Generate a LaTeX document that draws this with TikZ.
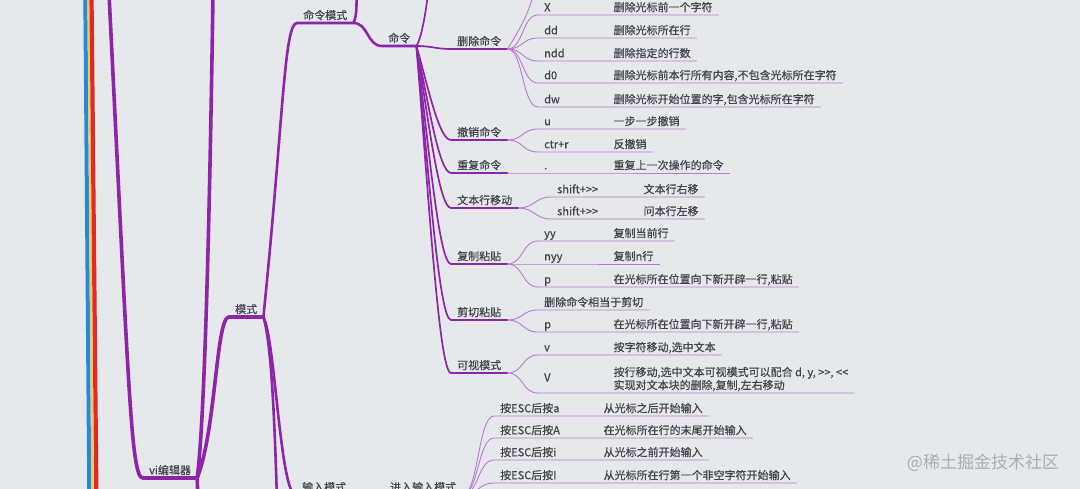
\documentclass[tikz,border=0pt]{standalone}
\usepackage{fontspec}
\newfontfamily\cnfont{Noto Sans CJK SC}[FakeBold=0.6]
\newfontfamily\markfont{Noto Sans CJK SC}
\definecolor{bg}{RGB}{230,233,236}
\definecolor{mind}{RGB}{142,36,170}
\definecolor{twigc}{RGB}{184,122,208}
\definecolor{ink}{RGB}{64,68,76}
\definecolor{bluebr}{RGB}{32,138,222}
\definecolor{yellowbr}{RGB}{244,202,86}
\definecolor{redbr}{RGB}{224,42,40}
\definecolor{markc}{RGB}{168,173,179}
\tikzset{
  topic/.style={anchor=south west, inner xsep=6pt, inner ysep=1.5pt,
    text height=8.5pt, text depth=2pt, text=ink,
    font=\cnfont\fontsize{11}{13}\selectfont},
  key/.style={topic, text width=#1, align=left},
  key/.default=57pt,
  trunk/.style={draw=mind, line width=3.6pt, line cap=round},
  limb/.style={draw=mind, line width=2.6pt, line cap=round},
  branch/.style={draw=mind, line width=1.7pt, line cap=round},
  twig/.style={draw=twigc, line width=0.9pt},
}
\begin{document}
\begin{tikzpicture}[x=1pt,y=-1pt]
  \useasboundingbox (0,0) rectangle (1080,489);
  \fill[bg] (0,0) rectangle (1080,489);
  \clip (0,0) rectangle (1080,489);
  % other main branches, seen only at the edge
  \draw[bluebr, line width=4pt] (85.3,-5) -- (89.3,495);
  \draw[yellowbr, line width=2.4pt] (88.5,-5) -- (92.6,495);
  \draw[redbr, line width=4.2pt] (91.5,-5) -- (96.4,495);

  % topics
  \node[topic] (vi) at (143,478) {vi编辑器};
  \node[topic] (mode) at (229,317) {模式};
  \node[topic] (cmdmode) at (297,23) {命令模式};
  \node[topic] (cmd) at (382,46) {命令};
  \node[topic] (del) at (451,49) {删除命令};
  \node[topic] (undo) at (451,140) {撤销命令};
  \node[topic] (rep) at (451,173) {重复命令};
  \node[topic] (mv) at (451,208) {文本行移动};
  \node[topic] (cp) at (451,264) {复制粘贴};
  \node[topic] (cut) at (451,320) {剪切粘贴};
  \node[topic] (vis) at (451,373) {可视模式};
  \node[topic] (inmode) at (296,495) {输入模式};
  \node[topic] (enter) at (384,495) {进入输入模式};

  % loose ends leaving the picture
  \coordinate (upA) at (109,-6);
  \coordinate (upB) at (213,-6);
  \coordinate (upC) at (357,-6);
  \coordinate (upD) at (428,-6);
  \coordinate (upE) at (533,-6);
  \coordinate (downA) at (198,500);
  \coordinate (downB) at (277,500);

  \draw[trunk] (upA) .. controls +(20,400) and +(-12,0) .. (vi.south west) -- (vi.south east);
  \draw[trunk] (vi.south east) .. controls +(8,-60) and +(-3,200) .. (upB);
  \draw[trunk] (vi.south east) .. controls +(19,-48) and +(-13,0) .. (mode.south west) -- (mode.south east);
  \draw[trunk] (vi.south east) -- (downA);
  \draw[limb] (mode.south east) .. controls +(20,-197) and +(-13,0) .. (cmdmode.south west) -- (cmdmode.south east);
  \draw[limb] (mode.south east) .. controls +(7,23) and +(-3,-100) .. (downB);
  \draw[limb] (mode.south east) .. controls +(12,23) and +(-16,0) .. (inmode.south west) -- (inmode.south east);
  \draw[limb] (cmdmode.south east) .. controls +(4,-8) and +(-1,10) .. (upC);
  \draw[limb] (cmdmode.south east) .. controls +(15,0) and +(-15,0) .. (cmd.south west) -- (cmd.south east);
  \draw[branch] (cmd.south east) .. controls +(6,-10) and +(-2,15) .. (upD);
  \draw[branch] (cmd.south east) .. controls +(15,0) and +(-15,0) .. (del.south west) -- (del.south east);
  \foreach \c/\d in {undo/42,rep/57,mv/73,cp/98,cut/123,vis/147}
    \draw[branch] (cmd.south east) .. controls +(12,\d) and +(-12,0) .. (\c.south west) -- (\c.south east);
  \draw[branch] (inmode.south east) .. controls +(15,0) and +(-15,0) .. (enter.south west) -- (enter.south east);
  \draw[twig] (del.south east) .. controls +(10,-15) and +(-2,15) .. (upE);

  % leaves: parent/name/x/width/y/key/text
  \foreach \p/\n/\x/\w/\y/\a/\b in {
    del/kx/538/57/15/X/删除光标前一个字符,
    del/kdd/538/57/38/dd/删除光标所在行,
    del/kndd/538/57/61/ndd/删除指定的行数,
    del/kdz/538/57/83/d0/{删除光标前本行所有内容,不包含光标所在字符},
    del/kdw/538/57/107/dw/{删除光标开始位置的字,包含光标所在字符},
    undo/ku/538/57/129/u/一步一步撤销,
    undo/kcr/538/57/152/ctr+r/反撤销,
    rep/kdot/538/57/173/./重复上一次操作的命令,
    mv/kshr/551/74/197/shift+>>/文本行右移,
    mv/kshl/551/74/219/shift+>>/问本行左移,
    cp/kyy/538/57/241/yy/复制当前行,
    cp/knyy/538/57/264/nyy/复制n行,
    cp/kp/538/57/287/p/{在光标所在位置向下新开辟一行,粘贴},
    cut/kcp/538/57/332/p/{在光标所在位置向下新开辟一行,粘贴},
    vis/kv/538/57/355/v/{按字符移动,选中文本},
    enter/ka/494/91/416/按ESC后按a/从光标之后开始输入,
    enter/kA/494/91/438/按ESC后按A/在光标所在行的末尾开始输入,
    enter/ki/494/91/460/按ESC后按i/从光标之前开始输入,
    enter/kI/494/91/483/按ESC后按I/从光标所在行第一个非空字符开始输入}
  {
    \node[key=\w pt] (\n) at (\x,\y) {\a};
    \node[topic] (t\n) at (\n.south east) {\b};
    \draw[twig] (\p.south east) .. controls +(16,0) and +(-16,0) .. (\n.south west) -- (t\n.south east);
  }
  \node[topic] (cutdel) at (538,310) {删除命令相当于剪切};
  \draw[twig] (cut.south east) .. controls +(16,0) and +(-16,0) .. (cutdel.south west) -- (cutdel.south east);
  \node[key, minimum height=29pt] (kV) at (538,393) {V};
  \node[topic, text height=, text depth=, align=left] (tkV) at (kV.south east)
    {按行移动,选中文本可视模式可以配合 d, y, >>, <<\\实现对文本块的删除,复制,左右移动};
  \draw[twig] (vis.south east) .. controls +(16,0) and +(-16,0) .. (kV.south west) -- (tkV.south east);

  \node[font=\markfont\fontsize{17}{17}\selectfont, text=markc] (mark) at (983,463) {@稀土掘金技术社区};
\end{tikzpicture}
\end{document}
